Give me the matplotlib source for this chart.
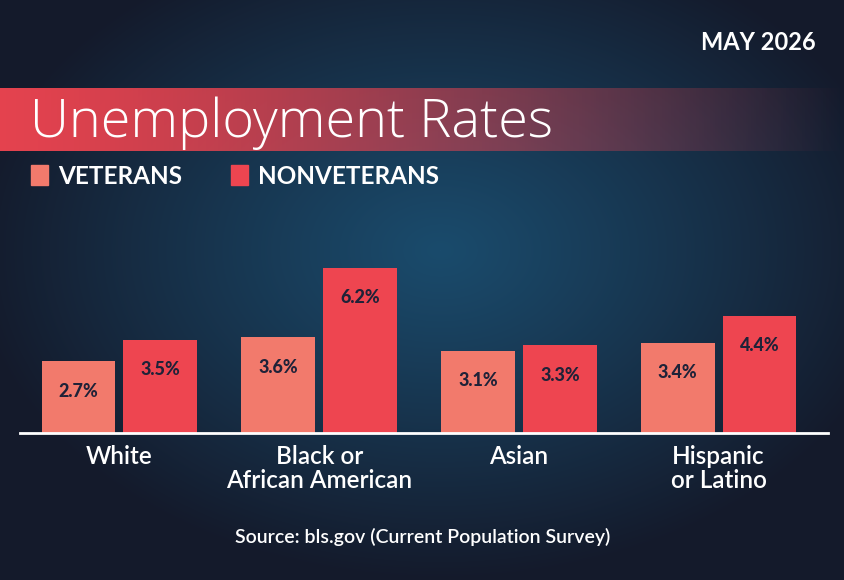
import numpy as np
import matplotlib
matplotlib.use("Agg")
import matplotlib.pyplot as plt
from matplotlib.colors import to_rgb

# data
categories = ["White", "Black or\nAfrican American", "Asian", "Hispanic\nor Latino"]
veterans = [2.7, 3.6, 3.1, 3.4]
nonveterans = [3.5, 6.2, 3.3, 4.4]
series_names = ["VETERANS", "NONVETERANS"]
title = "Unemployment Rates"
date_label = "MAY 2026"
source = "Source: bls.gov (Current Population Survey)"

plt.rcParams['font.family'] = ['Lato', 'DejaVu Sans']

W, H = 845, 580
fig = plt.figure(figsize=(W / 100, H / 100), dpi=100)

c_vet = "#f27a6c"
c_non = "#ee4550"
c_lab = "#1f2238"

#-------------------------------------------------------------------------------
# background: radial gradient
bg = fig.add_axes([0, 0, 1, 1])
yy, xx = np.mgrid[0:H, 0:W]
d = np.sqrt(((xx - 440) / 470.0) ** 2 + ((yy - 250) / 330.0) ** 2)
d = np.clip(d, 0, 1) ** 1.1
inner = np.array(to_rgb("#1a4b6c"))
outer = np.array(to_rgb("#141a2b"))
img = inner[None, None, :] * (1 - d[..., None]) + outer[None, None, :] * d[..., None]
bg.imshow(img, extent=[0, W, H, 0], aspect="auto")

# title banner
band = np.zeros((1, W, 4))
band[..., :3] = to_rgb("#ec4450")
t = np.linspace(0, 1, W)
band[..., 3] = np.clip(1 - t ** 1.3, 0, 1) * 0.97
bg.imshow(band, extent=[0, W, 151, 88], aspect="auto")
bg.set_xlim(0, W)
bg.set_ylim(H, 0)
bg.axis("off")

bg.text(30, 137, title, color="white", fontsize=39, fontfamily=["Open Sans", "DejaVu Sans"],
        fontweight="light", va="baseline", ha="left")
bg.text(816, 42, date_label, color="white", fontsize=17, fontweight="bold",
        va="center", ha="right")

# legend
for x0, name, col in [(31, series_names[0], c_vet), (231, series_names[1], c_non)]:
    bg.add_patch(plt.Rectangle((x0, 165), 17, 20, color=col))
    bg.text(x0 + 27, 176, name, color="white", fontsize=17.5, fontweight="bold",
            va="center", ha="left")

bg.text(423, 537, source, color="white", fontsize=14, fontweight="semibold",
        va="center", ha="center")

#-------------------------------------------------------------------------------
# bars
ax = fig.add_axes([20 / W, (H - 433) / H, 808 / W, 233 / H])
ax.patch.set_alpha(0)
x = np.arange(len(categories))
bw = 0.37
off = 0.205
b1 = ax.bar(x - off, veterans, bw, color=c_vet)
b2 = ax.bar(x + off, nonveterans, bw, color=c_non)
for bars, vals in [(b1, veterans), (b2, nonveterans)]:
    for b, v in zip(bars, vals):
        ax.annotate("%.1f%%" % v, (b.get_x() + b.get_width() / 2, v),
                    xytext=(0, -21.5), textcoords="offset points",
                    ha="center", va="center", color=c_lab,
                    fontsize=13, fontweight="black")

ax.set_xlim(-0.498, 3.548)
ax.set_ylim(0, 8.76)
for s in ["top", "right", "left"]:
    ax.spines[s].set_visible(False)
ax.spines["bottom"].set_color("white")
ax.spines["bottom"].set_linewidth(2)
ax.set_yticks([])
ax.set_xticks(x)
ax.set_xticklabels(categories, color="white", fontsize=17.5, fontweight="semibold",
                   linespacing=1.05, va="top")
ax.tick_params(axis="x", length=0, pad=9)

fig.savefig("out.png", dpi=100)
